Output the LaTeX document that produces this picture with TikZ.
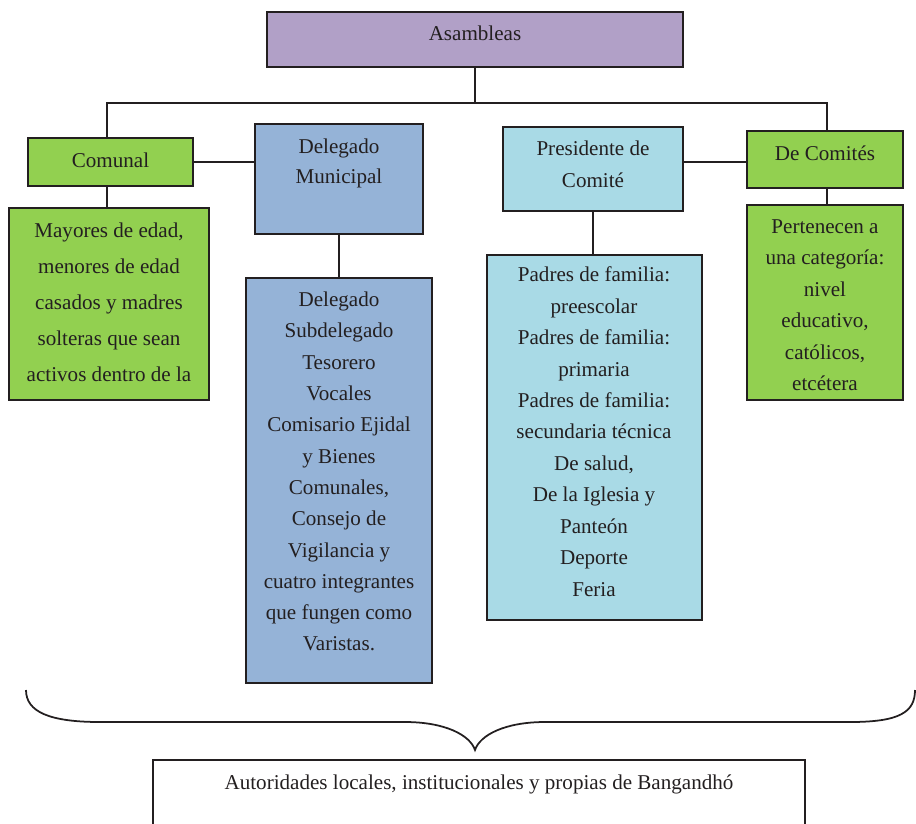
\documentclass[tikz,border=0pt]{standalone}
\usepackage{fontspec}
\setmainfont{Liberation Serif}
\usetikzlibrary{positioning}

\definecolor{lila}{HTML}{B1A0C7}
\definecolor{verde}{HTML}{92D050}
\definecolor{azul}{HTML}{95B3D7}
\definecolor{celeste}{HTML}{A9DAE6}
\definecolor{tinta}{HTML}{231F20}

\begin{document}
\begin{tikzpicture}[x=0.02cm, y=-0.02cm,
    caja/.style={draw=tinta, line width=1.1pt, inner sep=0pt},
    linea/.style={draw=tinta, line width=1pt},
    txt/.style={anchor=base, inner sep=0pt, text=tinta, font=\fontsize{12}{14}\selectfont}]

    \path[use as bounding box, clip] (0,0) rectangle (916,823);

    % cajas
    \node[caja, fill=lila, minimum width=8.32cm, minimum height=1.1cm] (asam) at (475,39.5) {};
    \node[caja, fill=verde, minimum width=3.3cm, minimum height=0.96cm] (comunal) at (110.5,162) {};
    \node[caja, fill=azul, minimum width=3.36cm, minimum height=2.2cm] (dm) at (339,179) {};
    \node[caja, fill=celeste, minimum width=3.6cm, minimum height=1.68cm] (pdc) at (593,169) {};
    \node[caja, fill=verde, minimum width=3.12cm, minimum height=1.14cm] (comites) at (825,159.5) {};
    \node[caja, fill=verde, minimum width=4cm, minimum height=3.84cm] (mayores) at (109,304) {};
    \node[caja, fill=azul, minimum width=3.72cm, minimum height=8.1cm] (lista) at (339,480.5) {};
    \node[caja, fill=celeste, minimum width=4.3cm, minimum height=7.3cm] (padres) at (594.5,437.5) {};
    \node[caja, fill=verde, minimum width=3.12cm, minimum height=3.9cm] (categ) at (825,302.5) {};
    \node[caja, minimum width=13.04cm, minimum height=1.8cm] (autor) at (479,805) {};

    % conectores
    \draw[linea] (asam.south) -- ++(0,35) coordinate (barra) -| ([xshift=-0.07cm]comunal.north);
    \draw[linea] (barra) -| ([xshift=0.04cm]comites.north);
    \draw[linea] ([xshift=-0.07cm]comunal.south) -- ([xshift=-0.07cm]comunal.south |- mayores.north);
    \draw[linea] (comunal.east) -- (comunal.east -| dm.west);
    \draw[linea] (dm.south) -- (lista.north);
    \draw[linea] (pdc.south) -- (pdc.south |- padres.north);
    \draw[linea] ([yshift=-0.05cm]comites.west) -- ([yshift=-0.05cm]comites.west -| pdc.east);
    \draw[linea] ([xshift=0.04cm]comites.south) -- ([xshift=0.04cm]comites.south |- categ.north);

    % llave
    \draw[linea] (26,690) .. controls (26,712) and (50,722) .. (100,722) -- (405,722)
        .. controls (445,722) and (470,735) .. (475,750)
        .. controls (480,735) and (505,722) .. (545,722) -- (850,722)
        .. controls (900,722) and (915,712) .. (915,690);

    % textos
    \node[txt] (t-asam) at (475,40.5) {Asambleas};
    \node[txt] (t-comunal) at (110.5,167) {Comunal};
    \node[txt] (t-comites) at (825,160) {De Comités};
    \foreach \t [count=\i from 0] in {Delegado, Municipal}
        \node[txt] (t-dm-\i) at (339,153+30*\i) {\t};
    \foreach \t [count=\i from 0] in {Presidente de, Comité}
        \node[txt] (t-pdc-\i) at (593,155+32*\i) {\t};
    \foreach \t [count=\i from 0] in {{Mayores de edad,}, menores de edad, casados y madres, solteras que sean, activos dentro de la}
        \node[txt] (t-may-\i) at (109,237+36.1*\i) {\t};
    \foreach \t [count=\i from 0] in {Delegado, Subdelegado, Tesorero, Vocales, Comisario Ejidal, y Bienes, {Comunales,}, Consejo de, Vigilancia y, cuatro integrantes, que fungen como, Varistas.}
        \node[txt] (t-lis-\i) at (339,306.6+31.3*\i) {\t};
    \foreach \t [count=\i from 0] in {Padres de familia:, preescolar, Padres de familia:, primaria, Padres de familia:, secundaria técnica, {De salud,}, De la Iglesia y, Panteón, Deporte, Feria}
        \node[txt] (t-pad-\i) at (594,281.7+31.45*\i) {\t};
    \foreach \t [count=\i from 0] in {Pertenecen a, una categoría:, nivel, {educativo,}, {católicos,}, etcétera}
        \node[txt] (t-cat-\i) at (825,233+31.5*\i) {\t};
    \node[txt] (t-autor) at (479,789) {Autoridades locales, institucionales y propias de Bangandhó};

\end{tikzpicture}
\end{document}
